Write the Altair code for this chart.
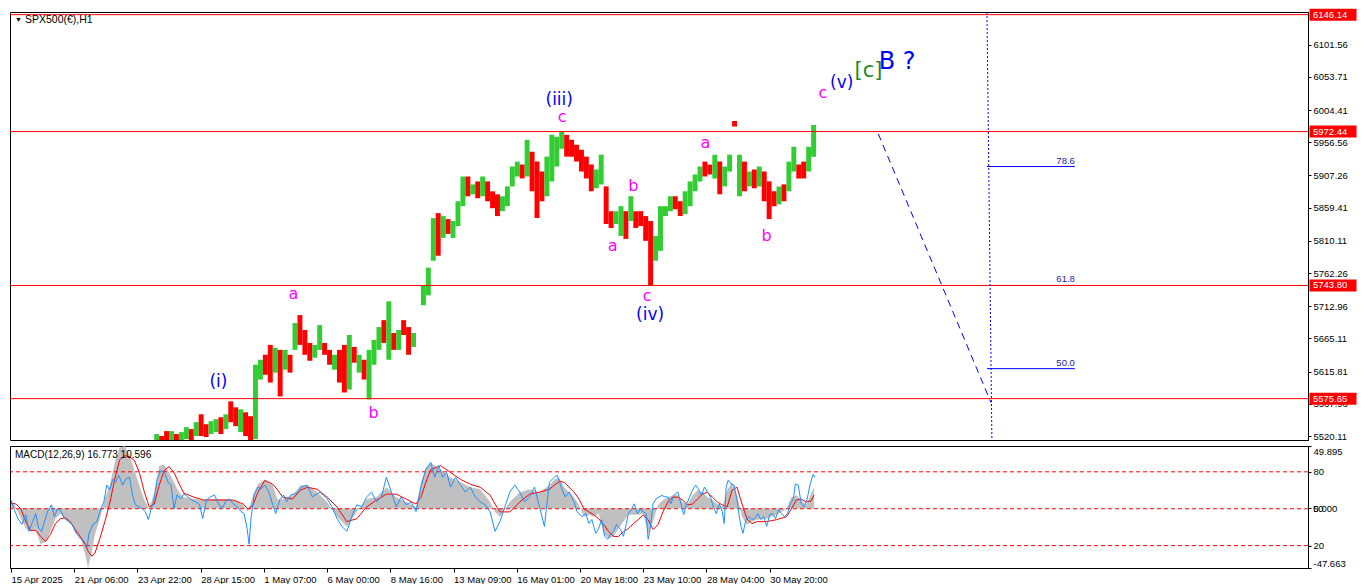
import altair as alt
import pandas as pd

# ---------------- layout / style constants ----------------
W = 1298
H_PRICE = 428
H_MACD = 122
X_DOMAIN = [-1, 1313]
PRICE_DOMAIN = [5514.2, 6150.1]
MACD_DOMAIN = [-47.663, 49.895]
RSI_DOMAIN = [1.8, 101.0]

GREEN = "#32cd32"
RED = "#ff0000"
BLUE = "#0000ff"
MAGENTA = "#ff00ff"
DGREEN = "#228b22"
FIBBLUE = "#1a1aa6"
GRAY = "#c0c0c0"
RSIBLUE = "#1e90ff"
AXFONT = "Liberation Sans"
WFONT = "DejaVu Sans"

# ---------------- data ----------------
chart_title = "SPX500(€),H1"
macd_title = "MACD(12,26,9) 16.773 10.596"

# hourly price bars, summarised in 5-hour groups (hour index from 15 Apr 2025 00:00)
bar_first_hour = 145
bar_group_hours = 5
bar_high = [
    5523.0, 5520.1, 5527.4, 5527.4, 5523.0, 5525.9, 5533.3, 5530.4, 5540.7, 5552.4,
    5537.7, 5542.1, 5545.1, 5548.0, 5552.4, 5571.6, 5562.7, 5559.8, 5555.4, 5549.5,
    5626.0, 5633.4, 5640.8, 5655.5, 5651.1, 5648.1, 5648.1, 5640.8, 5687.9, 5699.7,
    5677.6, 5658.4, 5655.5, 5684.9, 5658.4, 5648.1, 5640.8, 5648.1, 5655.5, 5670.2,
    5652.5, 5640.8, 5633.4, 5648.1, 5662.8, 5682.0, 5692.3, 5720.3, 5673.2, 5677.6,
    5692.3, 5682.0, 5673.2, None, 5743.8, 5770.3, 5843.9, 5851.3, 5846.9, 5842.4,
    5839.5, 5868.9, 5905.7, 5905.7, 5893.9, 5898.4, 5905.7, 5898.4, 5883.7, 5879.2,
    5876.3, 5891.0, 5920.5, 5927.8, 5923.4, 5960.2, 5942.5, 5927.8, 5913.1, 5935.2,
    5967.6, 5964.6, 5972.0, 5967.6, 5960.2, 5952.9, 5945.5, 5935.2, 5923.4, 5916.0,
    5938.1, 5891.0, 5854.2, 5854.2, 5861.6, 5854.2, 5876.3, 5854.2, 5854.2, 5846.9,
    5839.5, 5817.4, 5861.6, 5861.6, 5876.3, 5876.3, 5868.9, 5883.7, 5898.4, 5908.7,
    5920.5, 5927.8, 5923.4, 5938.1, 5927.8, 5920.5, 5938.1, 5988.0, 5938.1, 5927.8,
    5913.1, 5916.0, 5920.5, 5913.1, 5898.4, 5883.7, 5891.0, 5894.0, 5927.8, 5949.9,
    5923.4, 5927.8, 5949.9, 5982.3,
]
bar_low = [
    5508.3, 5508.3, 5514.2, 5514.2, 5508.3, 5511.2, 5515.6, 5512.7, 5520.1, 5520.1,
    5518.6, 5523.0, 5525.9, 5523.0, 5530.4, 5540.7, 5534.8, 5525.9, 5520.1, 5508.3,
    5515.6, 5604.0, 5611.3, 5599.5, 5614.3, 5578.9, 5618.7, 5614.3, 5648.1, 5655.5,
    5640.8, 5631.9, 5636.4, 5648.1, 5640.8, 5626.0, 5618.7, 5599.5, 5584.8, 5589.2,
    5629.0, 5614.3, 5604.0, 5574.5, 5626.0, 5648.1, 5658.4, 5633.4, 5648.1, 5648.1,
    5670.2, 5640.8, 5652.5, None, 5714.4, 5729.1, 5780.6, 5788.0, 5814.5, 5820.4,
    5814.5, 5832.1, 5861.6, 5876.3, 5879.2, 5873.4, 5876.3, 5868.9, 5858.6, 5846.9,
    5854.2, 5861.6, 5891.0, 5905.7, 5902.8, 5905.7, 5883.7, 5843.9, 5868.9, 5876.3,
    5898.4, 5920.5, 5947.0, 5935.2, 5935.2, 5927.8, 5913.1, 5902.8, 5883.7, 5888.1,
    5893.9, 5835.1, 5829.2, 5835.1, 5817.4, 5813.0, 5839.5, 5829.2, 5832.1, 5810.1,
    5743.8, 5780.6, 5795.3, 5846.9, 5854.2, 5857.2, 5846.9, 5849.8, 5861.6, 5883.7,
    5898.4, 5905.7, 5908.7, 5902.8, 5879.2, 5891.0, 5913.1, 5980.0, 5876.3, 5883.7,
    5891.0, 5888.1, 5891.0, 5868.9, 5842.4, 5861.6, 5864.5, 5868.9, 5883.7, 5913.1,
    5902.8, 5902.8, 5913.1, 5935.2,
]
bar_dir = [
    "G", "R", "R", "G", "R", "G", "G", "R", "G", "R",
    "R", "G", "G", "R", "G", "R", "R", "G", "R", "R",
    "G", "G", "R", "R", "G", "R", "G", "R", "G", "R",
    "R", "R", "G", "G", "R", "R", "G", "R", "R", "G",
    "R", "G", "R", "G", "G", "G", "R", "G", "R", "G",
    "R", "R", "G", "G", "G", "G", "G", "R", "G", "R",
    "G", "G", "G", "R", "G", "R", "G", "R", "R", "R",
    "G", "G", "G", "G", "R", "G", "R", "R", "R", "G",
    "G", "G", "G", "R", "R", "R", "R", "R", "R", "G",
    "G", "R", "R", "G", "G", "R", "G", "R", "R", "R",
    "R", "G", "G", "G", "G", "R", "R", "G", "G", "G",
    "G", "R", "R", "G", "R", "G", "G", "R", "G", "R",
    "G", "R", "G", "R", "R", "R", "G", "R", "G", "G",
    "R", "R", "G", "G",
]

price_ticks = [6101.56, 6053.71, 6004.41, 5956.56, 5907.26, 5859.41, 5810.11,
               5762.26, 5712.96, 5665.11, 5615.81, 5567.96, 5520.11]
level_prices = [6146.14, 5972.44, 5743.80, 5575.65]

fib_labels = ["78.6", "61.8", "50.0"]
fib_prices = [5920.5, 5743.8, 5620.2]
fib_start_hour = 988
fib_end_hour = 1077

trend_hours = [878, 992]
trend_prices = [5969.0, 5570.1]
vline_hours = [988, 993]
vline_prices = [6150.0, 5514.3]

wave_text = ["(i)", "a", "b", "(iii)", "c", "a", "b", "c", "(iv)", "a", "b", "c", "(v)", "[c]", "B ?"]
wave_hour = [210, 286, 367, 555, 558, 609, 630, 644, 647, 703, 765, 822, 841, 868, 897]
wave_price = [5601.0, 5730.6, 5553.9, 6019.1, 5994.1, 5802.7, 5891.0, 5727.6, 5699.7,
              5955.8, 5817.4, 6029.4, 6044.1, 6061.8, 6076.5]
wave_degree = ["minute", "minuette", "minuette", "minute", "minuette", "minuette", "minuette",
               "minuette", "minute", "minuette", "minuette", "minuette", "minute", "minor",
               "intermediate"]

# MACD panel
macd_hour = [
    0, 5, 10, 15, 20, 25, 30, 35, 40, 45,
    50, 55, 60, 65, 70, 75, 78, 82, 85, 90,
    95, 100, 105, 110, 115, 120, 125, 130, 135, 140,
    145, 150, 155, 160, 165, 170, 175, 185, 195, 205,
    215, 225, 235, 240, 245, 250, 257, 265, 270, 275,
    285, 293, 300, 310, 320, 330, 340, 350, 360, 370,
    380, 390, 400, 410, 415, 420, 425, 435, 445, 455,
    465, 475, 485, 490, 495, 505, 515, 525, 535, 545,
    550, 555, 560, 570, 575, 580, 585, 590, 595, 600,
    605, 610, 615, 620, 625, 630, 635, 640, 645, 650,
    655, 660, 665, 670, 675, 680, 685, 690, 695, 700,
    705, 710, 715, 720, 725, 730, 735, 740, 745, 750,
    755, 765, 775, 785, 790, 795, 800, 805, 810, 813,
]
macd_main = [
    6.7, 1.2, -8.3, -16.1, -18.5, -16.9, -28.7, -26.4, -18.5, -8.3,
    -4.3, -8.3, -10.6, -18.5, -22.4, -36.6, -47.6, -34.2, -20.8, -8.3,
    7.5, 18.5, 36.6, 48.4, 49.9, 42.9, 30.3, 18.5, 6.7, -0.4,
    13.0, 34.2, 35.0, 28.7, 20.9, 13.0, 9.0, 7.5, 6.7, 7.5,
    7.5, 6.7, 2.8, -2.8, 10.6, 19.3, 23.2, 18.5, 6.7, 7.5,
    10.6, 18.5, 18.5, 13.0, 5.1, -6.7, -14.6, -2.8, 7.5, 9.0,
    16.9, 9.0, 5.1, 1.2, 20.9, 32.7, 36.6, 31.1, 24.8, 20.9,
    16.9, 15.3, 5.1, -2.8, -6.7, 5.1, 13.0, 15.3, 13.0, 18.5,
    23.2, 24.8, 16.9, 9.0, 2.8, -6.7, -5.1, -6.7, -4.3, -20.1,
    -24.0, -22.4, -16.1, -10.6, -5.1, -5.1, -5.1, -4.3, -20.1, -10.6,
    2.8, 6.7, 9.0, 10.6, 10.6, 5.1, 3.5, 10.6, 14.6, 13.0,
    9.0, 6.7, 3.5, 1.2, 14.6, 20.9, 10.6, -6.7, -13.0, -10.6,
    -9.0, -8.3, -5.1, -0.4, 9.0, 10.6, 6.7, 2.8, 12.0, 16.8,
]
macd_signal = [
    4.3, 3.5, -0.4, -10.6, -17.7, -17.7, -22.4, -26.4, -20.8, -12.2,
    -8.3, -7.5, -10.6, -16.9, -22.4, -28.7, -34.2, -38.2, -35.8, -24.0,
    -10.6, 4.3, 23.2, 38.9, 42.1, 41.3, 38.2, 28.7, 13.0, 1.2,
    3.5, 18.5, 30.3, 33.4, 28.7, 20.1, 12.2, 9.0, 6.7, 6.7,
    6.7, 6.7, 3.5, -0.4, 2.8, 13.0, 22.4, 19.3, 14.6, 9.0,
    7.5, 14.6, 16.9, 15.3, 9.0, 1.2, -10.6, -8.3, 1.2, 6.7,
    11.4, 11.4, 7.5, 3.5, 9.0, 20.9, 31.1, 34.2, 28.7, 23.2,
    19.3, 16.9, 10.6, 3.5, -2.8, -2.8, 5.1, 11.4, 13.0, 15.3,
    18.5, 21.6, 20.9, 13.0, 7.5, -0.4, -2.8, -5.1, -8.3, -13.0,
    -18.5, -22.4, -22.4, -18.5, -16.1, -12.2, -9.0, -5.1, -9.0, -16.9,
    -13.0, -2.8, 5.1, 9.0, 9.0, 6.7, 2.8, 3.5, 7.5, 11.4,
    13.0, 9.0, 5.1, 2.8, 1.2, 14.6, 16.9, 3.5, -8.3, -12.2,
    -10.6, -10.6, -9.0, -6.7, -0.4, 6.7, 7.5, 5.1, 6.0, 10.6,
]

osc_hour = [
    0, 3, 7, 11, 15, 18, 22, 25, 28, 31,
    33, 37, 41, 44, 47, 51, 54, 58, 62, 66,
    70, 74, 77, 79, 83, 87, 91, 94, 97, 100,
    103, 106, 109, 113, 116, 120, 123, 126, 129, 133,
    136, 139, 142, 145, 148, 152, 156, 159, 162, 165,
    168, 172, 175, 179, 183, 187, 191, 194, 198, 202,
    206, 210, 214, 217, 221, 225, 229, 233, 236, 239,
    241, 243, 246, 250, 253, 257, 261, 265, 268, 272,
    276, 279, 283, 287, 291, 294, 300, 305, 313, 320,
    325, 330, 335, 340, 345, 350, 355, 360, 365, 370,
    375, 380, 385, 390, 395, 400, 405, 410, 415, 420,
    425, 429, 433, 437, 441, 445, 450, 455, 460, 465,
    470, 475, 480, 485, 490, 495, 500, 505, 510, 515,
    520, 525, 530, 535, 540, 545, 550, 553, 557, 561,
    565, 570, 573, 578, 582, 585, 588, 592, 595, 598,
    601, 604, 607, 610, 613, 617, 620, 623, 625, 628,
    631, 634, 637, 640, 643, 645, 647, 650, 653, 656,
    659, 662, 665, 668, 671, 675, 679, 681, 684, 687,
    690, 693, 696, 699, 702, 705, 708, 711, 714, 717,
    720, 722, 724, 726, 729, 732, 735, 737, 739, 741,
    744, 747, 750, 753, 756, 759, 762, 765, 768, 771,
    774, 777, 780, 783, 786, 789, 792, 794, 797, 800,
    803, 806, 809, 812, 814,
]
osc_value = [
    57.2, 50, 42, 37.2, 45.2, 31.6, 39.6, 46, 34, 31.6,
    37.2, 47.6, 53.2, 43.6, 50, 47.6, 42, 39.6, 37.2, 30,
    26, 23.6, 18.8, 30, 37.2, 39.6, 50, 55.6, 69.2, 65.2,
    74, 71.6, 77.2, 69.2, 74, 75.6, 61.2, 53.2, 51.6, 50,
    47.6, 41.2, 50, 58, 74, 81.2, 78, 71.6, 69.2, 50,
    61.2, 58, 62, 59.6, 57.2, 55.6, 53.2, 42, 57.2, 59.6,
    61.2, 54, 50, 55.6, 58, 54, 51.6, 47.6, 46, 34,
    21.2, 42, 61.2, 67.6, 66, 69.2, 63.6, 53.2, 46, 57.2,
    61.2, 55.6, 61.2, 62, 63.6, 67.6, 69.2, 59.6, 63.6, 58,
    51.6, 42, 35.6, 31.6, 43.6, 53.2, 51.6, 59.6, 63.6, 55.6,
    59.6, 75.6, 63.6, 51.6, 59.6, 53.2, 55.6, 47.6, 67.6, 82,
    87.6, 75.6, 85.2, 75.6, 79.6, 67.6, 75.6, 69.2, 63.6, 67.6,
    59.6, 55.6, 53.2, 47.6, 31.6, 39.6, 51.6, 63.6, 69.2, 63.6,
    55.6, 59.6, 67.6, 51.6, 35.6, 71.6, 75.6, 77.2, 67.6, 59.6,
    63.6, 55.6, 47.6, 43.6, 46, 38, 41.2, 30, 34, 41.2,
    27.6, 25.2, 29.2, 31.6, 37.2, 33.2, 27.6, 38, 46, 49.2,
    54, 46, 49.2, 47.6, 46, 25.2, 33.2, 54, 58, 59.6,
    60.8, 59.6, 59.6, 54, 60.8, 63.6, 51.6, 45.2, 54, 59.6,
    65.2, 69.2, 66, 60.8, 67.6, 63.6, 59.6, 51.6, 46, 54,
    47.6, 38, 67.6, 73.2, 70, 69.2, 57.2, 45.2, 35.6, 30,
    41.2, 43.6, 41.2, 42, 46, 41.2, 43.6, 35.6, 45.2, 46,
    42, 49.2, 46, 43.6, 46, 54, 58, 70, 69.2, 54,
    51.6, 58, 70, 78, 75.6,
]
osc_levels = [80, 50, 20]

time_tick_hours = [0, 64, 128, 192, 256, 320, 384, 448, 512, 576, 640, 704, 768]
time_tick_labels = ["15 Apr 2025", "21 Apr 06:00", "23 Apr 22:00", "28 Apr 15:00",
                    "1 May 07:00", "6 May 00:00", "8 May 16:00", "13 May 09:00",
                    "16 May 01:00", "20 May 18:00", "23 May 10:00", "28 May 04:00",
                    "30 May 20:00"]

# ---------------- frames ----------------
bars_df = pd.DataFrame({
    "hour": [bar_first_hour + bar_group_hours * i for i in range(len(bar_high))],
    "high": bar_high, "low": bar_low, "dir": bar_dir,
}).dropna()
bars_df["hour_end"] = bars_df["hour"] + bar_group_hours

levels_df = pd.DataFrame({"price": level_prices})
fib_df = pd.DataFrame({"label": fib_labels, "price": fib_prices,
                       "start": fib_start_hour, "end": fib_end_hour})
trend_df = pd.DataFrame({"hour": trend_hours, "price": trend_prices})
vline_df = pd.DataFrame({"hour": vline_hours, "price": vline_prices})
wave_df = pd.DataFrame({"text": wave_text, "hour": wave_hour, "price": wave_price,
                        "degree": wave_degree})
macd_df = pd.DataFrame({"hour": macd_hour, "main": macd_main, "signal": macd_signal})
osc_df = pd.DataFrame({"hour": osc_hour, "value": osc_value})
osc_lv_df = pd.DataFrame({"level": osc_levels})

xs = alt.Scale(domain=X_DOMAIN, nice=False, zero=False)
ys = alt.Scale(domain=PRICE_DOMAIN, nice=False, zero=False)
ym = alt.Scale(domain=MACD_DOMAIN, nice=False, zero=False)
yr = alt.Scale(domain=RSI_DOMAIN, nice=False, zero=False)

price_axis = alt.Axis(orient="right", values=price_ticks, format=".2f", tickSize=3,
                      labelPadding=2, grid=False, title=None, labelFont=AXFONT,
                      labelFontSize=9.5, labelColor="black", tickColor="black",
                      domainColor="black", labelOverlap=False, labelFlush=False)


def py(field):
    return alt.Y(field, scale=ys, axis=price_axis)


# ---------------- price panel ----------------
bars = alt.Chart(bars_df).mark_rect(clip=True).encode(
    x=alt.X("hour:Q", scale=xs, axis=None),
    x2="hour_end:Q",
    y=py("low:Q"),
    y2="high:Q",
    color=alt.Color("dir:N", scale=alt.Scale(domain=["G", "R"], range=[GREEN, RED]), legend=None),
)

fib_lines = alt.Chart(fib_df).mark_rule(color=BLUE, strokeWidth=1).encode(
    x=alt.X("start:Q", scale=xs, axis=None), x2="end:Q",
    y=py("price:Q"),
)
fib_text = alt.Chart(fib_df).mark_text(align="right", baseline="bottom", dy=-1, color=FIBBLUE,
                                       font=AXFONT, fontSize=9.5).encode(
    x=alt.X("end:Q", scale=xs, axis=None),
    y=py("price:Q"),
    text="label:N",
)
levels = alt.Chart(levels_df).mark_rule(color=RED, strokeWidth=1).encode(
    y=py("price:Q"),
)
trend = alt.Chart(trend_df).mark_line(color=BLUE, strokeWidth=1, strokeDash=[7, 5]).encode(
    x=alt.X("hour:Q", scale=xs, axis=None),
    y=py("price:Q"),
)
vline = alt.Chart(vline_df).mark_line(color=BLUE, strokeWidth=1, strokeDash=[2, 2]).encode(
    x=alt.X("hour:Q", scale=xs, axis=None),
    y=py("price:Q"),
)

wave_style = {
    "minuette": (MAGENTA, 16),
    "minute": (BLUE, 17),
    "minor": (DGREEN, 21),
    "intermediate": (BLUE, 24),
}
wave_layers = []
for deg, (col, fs) in wave_style.items():
    wave_layers.append(
        alt.Chart(wave_df).transform_filter(alt.datum.degree == deg)
        .mark_text(color=col, fontSize=fs, font=WFONT, baseline="middle", align="center")
        .encode(x=alt.X("hour:Q", scale=xs, axis=None),
                y=py("price:Q"),
                text="text:N")
    )

tag_box = alt.Chart(levels_df).mark_tick(orient="horizontal", thickness=12, size=47,
                                         color=RED, opacity=1).encode(
    x=alt.value(W + 25),
    y=py("price:Q"),
)
tag_text = alt.Chart(levels_df).mark_text(align="left", baseline="middle", color="white",
                                          font=AXFONT, fontSize=9.5).encode(
    x=alt.value(W + 5),
    y=py("price:Q"),
    text=alt.Text("price:Q", format=".2f"),
)

title_df = pd.DataFrame({"t": [chart_title]})
title_tri = alt.Chart(title_df).mark_text(text="▼", fontSize=7, align="left", baseline="middle",
                                          color="black").encode(x=alt.value(5), y=alt.value(8))
title_txt = alt.Chart(title_df).mark_text(align="left", baseline="middle", fontSize=10.5,
                                          font=AXFONT, color="black").encode(
    x=alt.value(15), y=alt.value(8), text="t:N")

price_panel = alt.layer(
    bars, fib_lines, levels, fib_text, trend, vline, *wave_layers, tag_box, tag_text,
    title_tri, title_txt,
).properties(width=W, height=H_PRICE)

# ---------------- MACD panel ----------------
lo_r, hi_r = RSI_DOMAIN
lo_m, hi_m = MACD_DOMAIN


def osc_to_macd(v):
    return lo_m + (v - lo_r) / (hi_r - lo_r) * (hi_m - lo_m)


macd_axis_vals = [hi_m, osc_to_macd(80), 0.0, osc_to_macd(20), lo_m]
macd_axis_text = ["49.895", "80", "0.000", "20", "-47.663"]
expr = ""
for i in range(len(macd_axis_vals) - 1):
    mid = (macd_axis_vals[i] + macd_axis_vals[i + 1]) / 2
    expr += f"datum.value > {mid:.4f} ? '{macd_axis_text[i]}' : "
expr += f"'{macd_axis_text[-1]}'"

macd_axis = alt.Axis(orient="right", values=macd_axis_vals, labelExpr=expr, tickSize=3,
                     labelPadding=2, grid=False, title=None, labelFont=AXFONT,
                     labelFontSize=9.5, labelColor="black", tickColor="black",
                     domainColor="black", labelFlush=True, labelOverlap=False)

x_expr = ("[" + ",".join(f"'{s}'" for s in time_tick_labels) + "][indexof(["
          + ",".join(str(h) for h in time_tick_hours) + "], datum.value)]")
x_axis = alt.Axis(values=time_tick_hours, labelExpr=x_expr, labelAlign="left", labelPadding=2,
                  tickSize=4, labelFont=AXFONT, labelFontSize=9.5, labelColor="black",
                  tickColor="black", domain=False, grid=False, title=None,
                  labelOverlap=False, labelFlush=False, labelBound=False)

hist = alt.Chart(macd_df).mark_area(color=GRAY).encode(
    x=alt.X("hour:Q", scale=xs, axis=x_axis),
    y=alt.Y("main:Q", scale=ym, axis=macd_axis),
    y2=alt.datum(0),
)
sig = alt.Chart(macd_df).mark_line(color=RED, strokeWidth=1).encode(
    x=alt.X("hour:Q", scale=xs, axis=x_axis),
    y=alt.Y("signal:Q", scale=ym, axis=None),
)
osc_lv = alt.Chart(osc_lv_df).mark_rule(color=RED, strokeWidth=1, strokeDash=[4, 3]).encode(
    y=alt.Y("level:Q", scale=yr, axis=None),
)
osc = alt.Chart(osc_df).mark_line(color=RSIBLUE, strokeWidth=1).encode(
    x=alt.X("hour:Q", scale=xs, axis=x_axis),
    y=alt.Y("value:Q", scale=yr, axis=None),
)
mid_label = alt.Chart(osc_lv_df).transform_filter(alt.datum.level == 50).mark_text(
    align="left", baseline="middle", font=AXFONT, fontSize=9.5, color="black").encode(
    x=alt.value(W + 5),
    y=alt.Y("level:Q", scale=yr, axis=None),
    text="level:Q",
)
macd_lbl = alt.Chart(pd.DataFrame({"t": [macd_title]})).mark_text(
    align="left", baseline="middle", font=AXFONT, fontSize=10, color="black").encode(
    x=alt.value(5), y=alt.value(9), text="t:N")

macd_panel = alt.layer(hist, osc_lv, sig, osc, mid_label, macd_lbl).resolve_scale(
    y="independent").properties(width=W, height=H_MACD)

chart = alt.vconcat(price_panel, macd_panel, spacing=2).properties(
    padding=0, background="white"
).configure_view(stroke="black", strokeWidth=1)

chart.save("out.html", embed_options={"renderer": "svg", "actions": False})
